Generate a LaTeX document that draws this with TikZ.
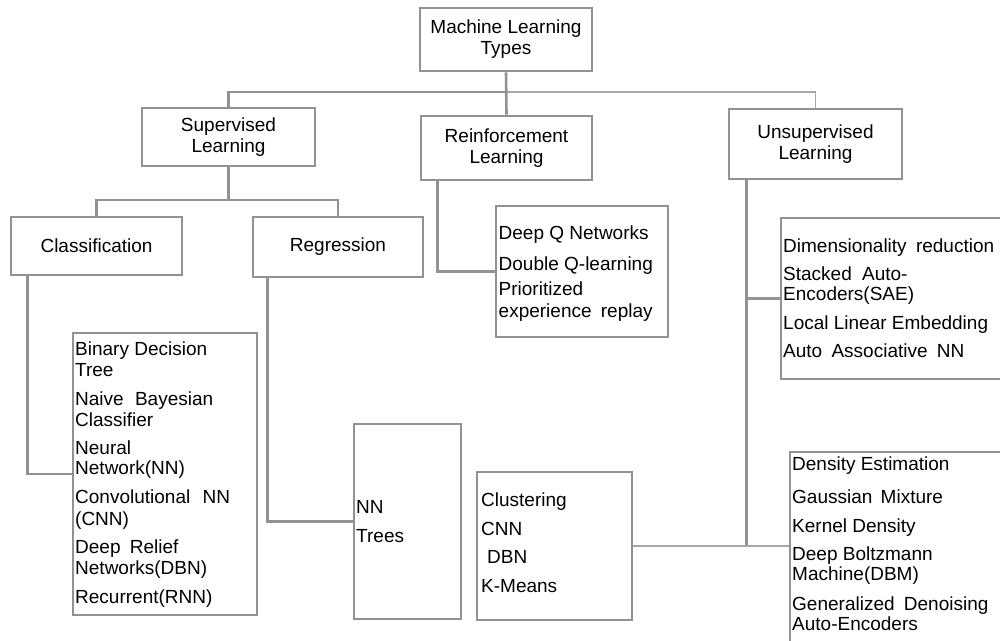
\documentclass[tikz,border=0pt]{standalone}
\usepackage{fontspec}
\setmainfont{Liberation Sans}
\definecolor{lg}{RGB}{146,146,146}
\begin{document}
\begin{tikzpicture}[x=1pt,y=-1pt,
  box/.style={draw=lg, line width=2.6pt, rectangle, inner sep=0pt, align=center, font=\fontsize{19}{21}\selectfont},
  lbox/.style={draw=lg, line width=2.4pt, rectangle, inner sep=0pt},
  lst/.style={anchor=base west, inner sep=0pt, font=\fontsize{19}{21}\selectfont},
  conn/.style={draw=lg, line width=2.6pt},
  thinconn/.style={draw=lg!80, line width=1.8pt}]
\fill[white] (0,0) rectangle (1000,640);
\useasboundingbox (0,0) rectangle (1000,640);
% title boxes
\node[box, minimum width=172pt, minimum height=63pt] (ml) at (506,39.5) {Machine Learning\\Types};
\node[box, minimum width=173pt, minimum height=58pt] (sl) at (228.5,137) {Supervised\\Learning};
\node[box, minimum width=171pt, minimum height=64pt] (rl) at (506.5,148) {Reinforcement\\Learning};
\node[box, minimum width=173pt, minimum height=70pt] (ul) at (815.5,144) {Unsupervised\\Learning};
\node[box, minimum width=171pt, minimum height=58pt] (cl) at (96.5,246) {Classification};
\node[box, minimum width=170pt, minimum height=60pt] (rg) at (338,247) {Regression};
% list boxes
\node[lbox, minimum width=184pt, minimum height=282pt] (bin) at (165,474) {};
\node[lbox, minimum width=107pt, minimum height=195pt] (nnb) at (407.5,521.5) {};
\node[lbox, minimum width=172pt, minimum height=131pt] (dqn) at (582,271.5) {};
\node[lbox, minimum width=155pt, minimum height=148pt] (clu) at (554.5,546) {};
\node[lbox, minimum width=239pt, minimum height=161pt] (dr) at (900.5,298.5) {};
\node[lbox, minimum width=230pt, minimum height=208pt] (de) at (905,556) {};
% connectors
\coordinate (tj) at (506,92);
\draw[conn] (sl.north) |- (tj);
\draw[thinconn] (tj) -| (ul.north);
\draw[conn] (ml.south) -- (rl.north);
\coordinate (sj) at (228.5,200);
\draw[conn] (sl.south) -- (sj);
\draw[conn] (cl.north) |- (sj) -| (rg.north);
\draw[conn] ([xshift=18pt]cl.south west) |- (bin.west);
\draw[conn] ([xshift=16pt]rg.south west) |- (nnb.west);
\draw[conn] ([xshift=18pt]rl.south west) |- (dqn.west);
\path ([xshift=19pt]ul.south west) coordinate (ub);
\coordinate (uj) at (ub |- clu.east);
\draw[conn] (ub) |- (dr.west);
\draw[conn] (ub) -- (uj);
\draw[thinconn] (clu.east) -- (clu.east -| de.west);
% DQN list
\node[lst] (q1) at (498.5,239) {Deep Q Networks};
\node[lst] (q2) at (498.5,270) {Double Q-learning};
\node[lst] (q3) at (498.5,295) {Prioritized};
\node[lst] (q4) at (498.5,317) {experience\hspace{4pt} replay};
% classification list
\node[lst] (b1) at (75,355) {Binary Decision};
\node[lst] (b2) at (75,376) {Tree};
\node[lst] (b3) at (75,405) {Naive\hspace{6pt} Bayesian};
\node[lst] (b4) at (75,426) {Classifier};
\node[lst] (b5) at (75,454) {Neural};
\node[lst] (b6) at (75,474) {Network(NN)};
\node[lst] (b7) at (75,503) {Convolutional\hspace{7pt} NN};
\node[lst] (b8) at (75,525) {(CNN)};
\node[lst] (b9) at (75,553) {Deep\hspace{4pt} Relief};
\node[lst] (b10) at (75,574) {Networks(DBN)};
\node[lst] (b11) at (75,603) {Recurrent(RNN)};
% regression list
\node[lst] (n1) at (356,513) {NN};
\node[lst] (n2) at (356,542) {Trees};
% clustering list
\node[lst] (c1) at (481,506) {Clustering};
\node[lst] (c2) at (481,535) {CNN};
\node[lst] (c3) at (487,563) {DBN};
\node[lst] (c4) at (481,592) {K-Means};
% dimensionality list
\node[lst] (d1) at (783,252) {Dimensionality\hspace{4pt} reduction};
\node[lst] (d2) at (783,280) {Stacked\hspace{5pt} Auto-};
\node[lst] (d3) at (783,300) {Encoders(SAE)};
\node[lst] (d4) at (783,329) {Local Linear Embedding};
\node[lst] (d5) at (783,357) {Auto\hspace{4pt} Associative\hspace{4pt} NN};
% density list
\node[lst] (e1) at (792,470) {Density Estimation};
\node[lst] (e2) at (792,503) {Gaussian\hspace{3pt} Mixture};
\node[lst] (e3) at (792,532) {Kernel Density};
\node[lst] (e4) at (792,560) {Deep Boltzmann};
\node[lst] (e5) at (792,580) {Machine(DBM)};
\node[lst] (e6) at (792,610) {Generalized\hspace{4pt} Denoising};
\node[lst] (e7) at (792,630) {Auto-Encoders};
\end{tikzpicture}
\end{document}
